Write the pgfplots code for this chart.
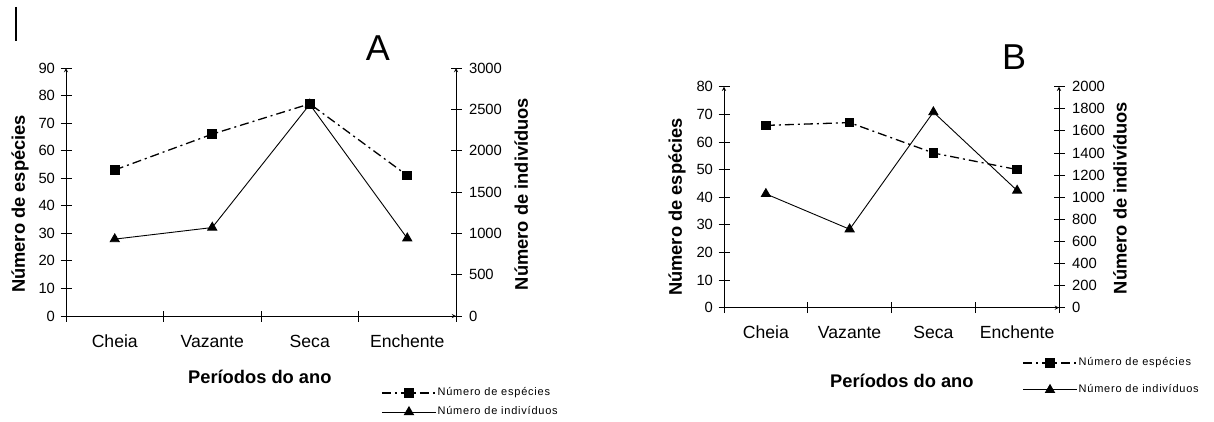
\documentclass[border=0pt]{standalone}
\usepackage{fontspec}
\setmainfont{Liberation Sans}
\usepackage{pgfplots}
\pgfplotsset{compat=1.18}

\newcommand{\tickfont}{\fontsize{14.8}{17}\selectfont}
\newcommand{\catfont}{\fontsize{17.6}{20}\selectfont}
\newcommand{\labfont}{\fontsize{18.3}{21}\selectfont\bfseries}
\newcommand{\legfont}{\fontsize{11}{13}\selectfont\addfontfeatures{LetterSpace=7}}
\newcommand{\panfont}{\fontsize{36}{40}\selectfont}

\pgfplotsset{
 common/.style={
  scale only axis, anchor=south west,
  xmin=0, xmax=4,
  axis line style={line width=0.9pt, -},
  every outer x axis line/.append style={-},
  every outer y axis line/.append style={-},
  every inner x axis line/.append style={-},
  every inner y axis line/.append style={-},
  tick style={line width=0.9pt, black},
  tick align=center, major tick length=11pt,
  /pgf/number format/assume math mode=true,
  /pgf/number format/1000 sep={},
  ticklabel style={font=\tickfont},
  clip=false,
 },
 sp/.style={black, line width=1.3pt, dash pattern=on 9pt off 4pt on 2pt off 4pt, mark=square*, mark size=4.2pt, mark options={solid}},
 ind/.style={black, line width=0.9pt, mark=triangle*, mark size=5.2pt, mark options={solid}},
 leg/.style={
  legend style={draw=none, fill=none, font=\legfont, inner sep=0pt, row sep=#1,
   nodes={inner sep=1pt, text height=8pt, text depth=2.5pt},
   /tikz/every even column/.append style={column sep=0pt}},
  legend cell align=left,
  legend image code/.code={\draw[mark repeat=2,mark phase=2,##1] plot coordinates {(0pt,0pt) (27pt,0pt) (54pt,0pt)};},
 },
}

\begin{document}
\begin{tikzpicture}
\useasboundingbox (0pt,0pt) rectangle (1214pt,421pt);
\draw[line width=2pt] (16pt,414pt) -- (16pt,380pt);

% ---------- Panel A ----------
\begin{axis}[common, at={(66pt,105pt)}, width=390pt, height=248pt,
  axis x line=none, axis y line=right,
  ymin=0, ymax=3000, ytick={0,500,1000,1500,2000,2500,3000},
  yticklabel style={anchor=west, xshift=4pt},
  ylabel={Número de indivíduos},
  ylabel style={at={(axis description cs:1.167,0.492)}, anchor=center, font=\labfont},
]
\addplot[ind] coordinates {(0.5,930) (1.5,1070) (2.5,2560) (3.5,940)};
\end{axis}

\begin{axis}[common, leg=6.5pt, at={(66pt,105pt)}, width=390pt, height=248pt,
  axis x line=bottom, axis y line=left,
  ymin=0, ymax=90, ytick={0,10,...,90},
  yticklabel style={anchor=east, xshift=-2pt},
  xtick={0,1,2,3,4}, xticklabels={Cheia,Vazante,Seca,Enchente},
  x tick label as interval,
  xticklabel style={font=\catfont, anchor=base, yshift=-26pt},
  xlabel={Períodos do ano},
  xlabel style={at={(axis description cs:0.497,-0.245)}, anchor=center, font=\labfont},
  ylabel={Número de espécies},
  ylabel style={at={(axis description cs:-0.118,0.452)}, anchor=center, font=\labfont},
  title={A}, title style={at={(axis description cs:0.8,1.057)}, anchor=center, font=\panfont},
  legend style={at={(axis description cs:0.808,-0.349)}, anchor=west},
]
\addplot[sp] coordinates {(0.5,53) (1.5,66) (2.5,77) (3.5,51)};
\addlegendentry{Número de espécies}
\addlegendimage{ind}
\addlegendentry{Número de indivíduos}
\end{axis}

% ---------- Panel B ----------
\begin{axis}[common, at={(724pt,113.3pt)}, width=335pt, height=221pt,
  axis x line=none, axis y line=right,
  ymin=0, ymax=2000, ytick={0,200,...,2000},
  yticklabel style={anchor=west, xshift=4pt},
  ylabel={Número de indivíduos},
  ylabel style={at={(axis description cs:1.182,0.496)}, anchor=center, font=\labfont},
]
\addplot[ind] coordinates {(0.5,1030) (1.5,710) (2.5,1770) (3.5,1060)};
\end{axis}

\begin{axis}[common, leg=14.5pt, at={(724pt,113.3pt)}, width=335pt, height=221pt,
  axis x line=bottom, axis y line=left,
  ymin=0, ymax=80, ytick={0,10,...,80},
  yticklabel style={anchor=east, xshift=-2pt},
  xtick={0,1,2,3,4}, xticklabels={Cheia,Vazante,Seca,Enchente},
  x tick label as interval,
  xticklabel style={font=\catfont, anchor=base, yshift=-25.6pt},
  xlabel={Períodos do ano},
  xlabel style={at={(axis description cs:0.531,-0.332)}, anchor=center, font=\labfont},
  ylabel={Número de espécies},
  ylabel style={at={(axis description cs:-0.140,0.456)}, anchor=center, font=\labfont},
  title={B}, title style={at={(axis description cs:0.866,1.107)}, anchor=center, font=\panfont},
  legend style={at={(axis description cs:0.890,-0.311)}, anchor=west},
]
\addplot[sp] coordinates {(0.5,66) (1.5,67) (2.5,56) (3.5,50)};
\addlegendentry{Número de espécies}
\addlegendimage{ind}
\addlegendentry{Número de indivíduos}
\end{axis}
\end{tikzpicture}
\end{document}
